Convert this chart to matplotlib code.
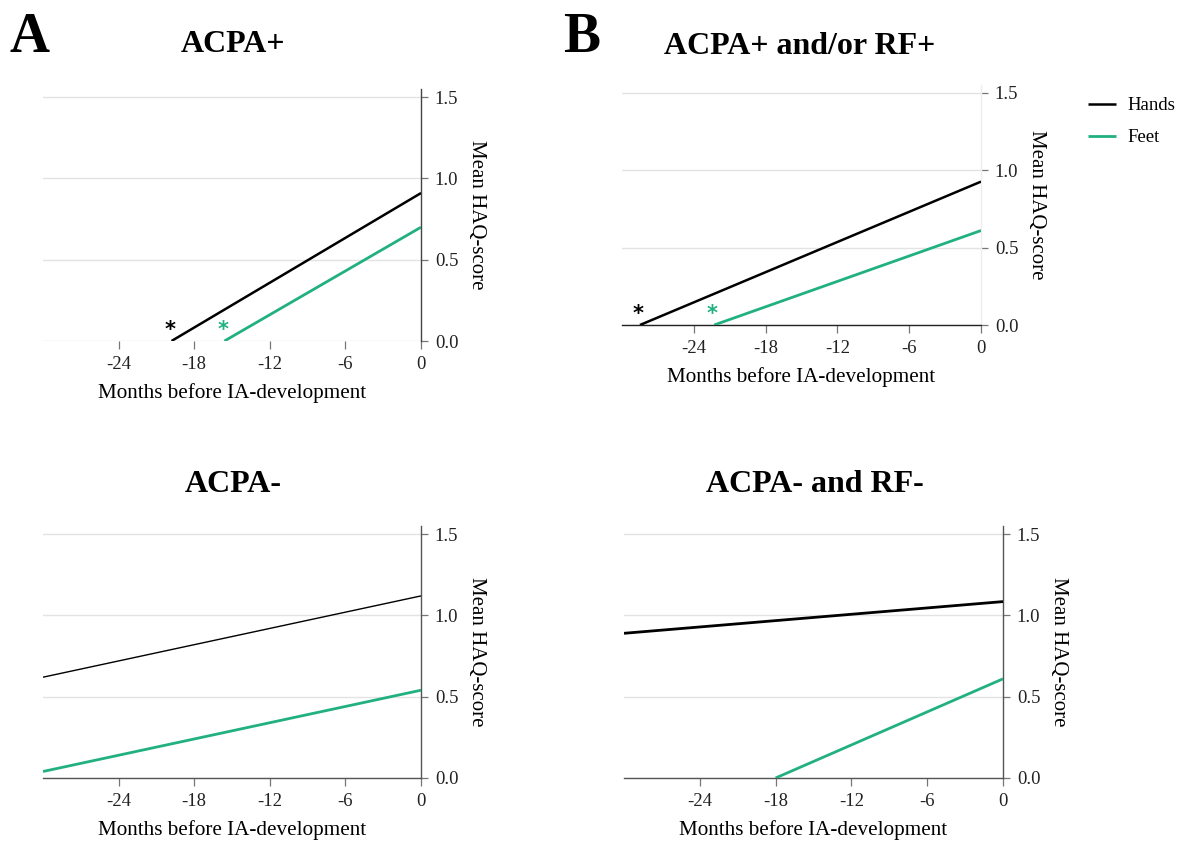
import matplotlib.pyplot as plt

plt.rcParams['font.family'] = ['Liberation Serif', 'DejaVu Serif']

# ---- data (months before IA, mean HAQ) ----
titles = ["ACPA+", "ACPA+ and/or RF+", "ACPA-", "ACPA- and RF-"]
hands_x = [[-19.8, 0], [-28.5, 0], [-30, 0], [-30, 0]]
hands_y = [[0.0, 0.91], [0.0, 0.926], [0.62, 1.12], [0.89, 1.085]]
feet_x = [[-15.6, 0], [-22.3, 0], [-30, 0], [-18, 0]]
feet_y = [[0.0, 0.70], [0.0, 0.61], [0.04, 0.54], [0.0, 0.61]]
signif_hands = [True, True, False, False]
signif_feet = [True, True, False, False]
x_ticks = [-24, -18, -12, -6, 0]
y_ticks = [0.0, 0.5, 1.0, 1.5]

green = "#21b07f"
W, H = 1188, 841

# axes boxes in pixels: left, right, y of 0.0, y of top
boxes = [(43, 421, 341, 89), (622, 981, 325, 85),
         (43, 421, 778, 526), (624, 1003, 778, 526)]
hands_lw = [1.8, 1.8, 1.0, 2.0]

fig = plt.figure(figsize=(W / 100, H / 100), dpi=100)

for i, (l, r, b, t) in enumerate(boxes):
    ax = fig.add_axes([l / W, 1 - b / H, (r - l) / W, (b - t) / H])
    ax.plot(hands_x[i], hands_y[i], color="black", lw=hands_lw[i],
            solid_capstyle="butt", label="Hands", zorder=3)
    ax.plot(feet_x[i], feet_y[i], color=green, lw=2.0,
            solid_capstyle="butt", label="Feet", zorder=3)
    if signif_hands[i]:
        ax.text(hands_x[i][0] - 0.15, hands_y[i][0] + 0.07, "*", ha="center",
                va="center", fontsize=15, fontweight="bold", color="black",
                family="DejaVu Sans")
    if signif_feet[i]:
        ax.text(feet_x[i][0] - 0.15, feet_y[i][0] + 0.07, "*", ha="center",
                va="center", fontsize=15, fontweight="bold", color=green,
                family="DejaVu Sans")

    ax.set_xlim(-30, 0)
    ax.set_ylim(0, 1.55)
    ax.set_xticks(x_ticks)
    ax.set_xticklabels([str(v) for v in x_ticks])
    ax.set_yticks(y_ticks)
    ax.set_yticklabels([f"{v:.1f}" for v in y_ticks])
    ax.yaxis.tick_right()
    ax.yaxis.set_label_position("right")
    ax.grid(axis="y", color="#e3e3e3", lw=1.0, zorder=0)
    ax.set_axisbelow(True)
    ax.tick_params(axis="both", labelsize=13.5, colors="#222222",
                   length=6, width=0.9, direction="out", pad=5)
    ax.tick_params(axis="y", color="#777777", length=5)
    ax.tick_params(axis="x", color="#777777")

    for s in ["top", "left"]:
        ax.spines[s].set_visible(False)
    if i == 0:
        ax.spines["bottom"].set_visible(False)
        ax.spines["right"].set_color("#444444")
    elif i == 1:
        ax.spines["right"].set_color("#eeeeee")
        ax.spines["bottom"].set_color("#222222")
    else:
        ax.spines["right"].set_color("#555555")
        ax.spines["bottom"].set_color("#555555")
    ax.spines["right"].set_linewidth(1.0)
    ax.spines["bottom"].set_linewidth(1.0)

    ax.set_xlabel("Months before IA-development", fontsize=15.2, labelpad=7)
    ax.set_ylabel("Mean HAQ-score", fontsize=15, rotation=-90, labelpad=20)

    if i == 1:
        ax.legend(loc="upper left", bbox_to_anchor=(1.25, 1.02), frameon=False,
                  fontsize=13.5, handlelength=1.5, handletextpad=0.6,
                  labelspacing=0.8)

# titles and panel letters
title_pos = [(233, 45), (800, 46), (233, 485), (815, 485)]
for (tx, ty), tt in zip(title_pos, titles):
    fig.text(tx / W, 1 - ty / H, tt, ha="center", va="center",
             fontsize=23, fontweight="bold")
fig.text(10 / W, 1 - 38 / H, "A", ha="left", va="center",
         fontsize=40, fontweight="bold")
fig.text(563 / W, 1 - 38 / H, "B", ha="left", va="center",
         fontsize=40, fontweight="bold")

fig.savefig("out.png", dpi=100)
